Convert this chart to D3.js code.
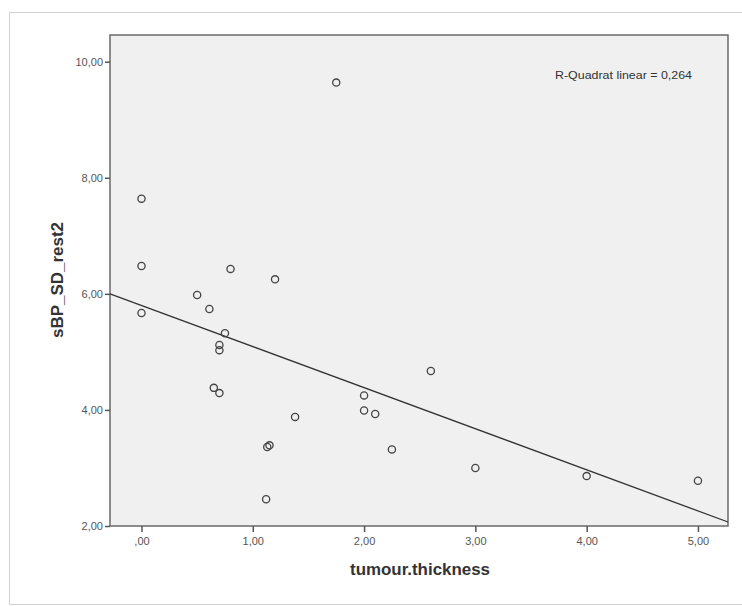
<!DOCTYPE html>
<html lang="de">
<head>
<meta charset="UTF-8">
<title>sBP_SD_rest2 vs tumour.thickness</title>
<script src="https://d3js.org/d3.v7.min.js"></script>
<style>
  body { margin: 0; background: #fff; }
  svg text { font-family: Arial, "Liberation Sans", sans-serif; fill: #333; }
</style>
</head>
<body>
<svg id="chart" width="742" height="606"></svg>
<script>
// data
const thickness = [0, 0, 0, 0.50, 0.61, 0.75, 0.70, 0.70, 0.65, 0.70, 0.80, 1.20, 1.38,
                   1.13, 1.15, 1.12, 1.75, 2.60, 2.00, 2.00, 2.10, 2.25, 3.00, 4.00, 5.00]
const sbp = [7.64, 6.48, 5.67, 5.98, 5.74, 5.32, 5.12, 5.03, 4.38, 4.29, 6.43, 6.25, 3.88,
             3.36, 3.39, 2.46, 9.64, 4.67, 4.25, 3.99, 3.93, 3.32, 3.00, 2.86, 2.78]
const xTicks = [0, 1, 2, 3, 4, 5]
const yTicks = [2, 4, 6, 8, 10]
const fitIntercept = 5.80
const fitSlope = -0.708
const rSquared = "0,264"

const fmt = v => v === 0 ? ",00" : d3.format(".2f")(v).replace(".", ",")

const svg = d3.select("#chart")
const plotL = 110, plotR = 728, plotT = 35, plotB = 526

// outer frame
svg.append("path")
  .attr("d", "M742,12.5 H9.5 V604.5 H742")
  .attr("fill", "none")
  .attr("stroke", "#d0d0d0")

const x = d3.scaleLinear().domain([-0.283, 5.27]).range([plotL, plotR])
const y = d3.scaleLinear().domain([2, 10.46]).range([plotB, plotT])

svg.append("rect")
  .attr("x", plotL).attr("y", plotT)
  .attr("width", plotR - plotL).attr("height", plotB - plotT)
  .attr("fill", "#f0f0f0")
  .attr("stroke", "#6a6a6a")
  .attr("stroke-width", 1.5)

// axes
const yAxis = svg.append("g")
  .attr("transform", `translate(${plotL},0)`)
  .call(d3.axisLeft(y).tickValues(yTicks).tickFormat(fmt).tickSize(5).tickPadding(2))
const xAxis = svg.append("g")
  .attr("transform", `translate(0,${plotB})`)
  .call(d3.axisBottom(x).tickValues(xTicks).tickFormat(fmt).tickSize(6).tickPadding(5))

;[xAxis, yAxis].forEach(g => {
  g.select(".domain").remove()
  g.selectAll(".tick line").attr("stroke", "#555").attr("stroke-width", 1.5)
  g.selectAll(".tick text").attr("font-size", 11).style("fill", "#555")
})

// fit line
const xd = x.domain()
svg.append("line")
  .attr("x1", x(xd[0])).attr("y1", y(fitIntercept + fitSlope * xd[0]))
  .attr("x2", x(xd[1])).attr("y2", y(fitIntercept + fitSlope * xd[1]))
  .attr("stroke", "#333")
  .attr("stroke-width", 1.3)

// points
svg.append("g")
  .selectAll("circle")
  .data(thickness.map((t, i) => ({ t: t, v: sbp[i] })))
  .enter()
  .append("circle")
  .attr("cx", d => x(d.t))
  .attr("cy", d => y(d.v))
  .attr("r", 3.6)
  .attr("fill", "none")
  .attr("stroke", "#444")
  .attr("stroke-width", 1.3)

svg.append("text")
  .attr("x", 555).attr("y", 79)
  .attr("font-size", 11)
  .attr("textLength", 137).attr("lengthAdjust", "spacingAndGlyphs")
  .text("R-Quadrat linear = " + rSquared)

// axis titles
svg.append("text")
  .attr("x", 350).attr("y", 575)
  .attr("font-size", 16).attr("font-weight", "bold")
  .attr("textLength", 140).attr("lengthAdjust", "spacingAndGlyphs")
  .text("tumour.thickness")

svg.append("text")
  .attr("transform", "translate(63,338) rotate(-90)")
  .attr("font-size", 16).attr("font-weight", "bold")
  .attr("textLength", 116).attr("lengthAdjust", "spacingAndGlyphs")
  .text("sBP_SD_rest2")
</script>
</body>
</html>
